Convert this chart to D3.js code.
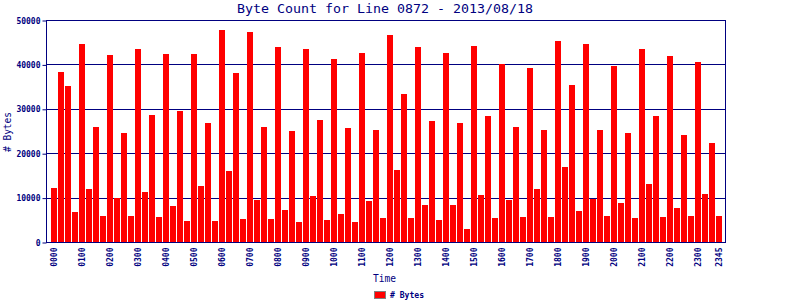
<!DOCTYPE html>
<html>
<head>
<meta charset="utf-8">
<script src="https://cdn.jsdelivr.net/npm/d3@7"></script>
<style>
  html, body { margin: 0; padding: 0; background: #fff; }
  svg { display: block; }
  text { font-family: "DejaVu Sans Mono", monospace; fill: #000080; }
</style>
</head>
<body>
<svg id="chart" width="800" height="300"></svg>
<script>
const title = "Byte Count for Line 0872 - 2013/08/18";
const yTitle = "# Bytes";
const xTitle = "Time";
const seriesName = "# Bytes";

const times = [
  "0000","0015","0030","0045","0100","0115","0130","0145","0200","0215","0230","0245",
  "0300","0315","0330","0345","0400","0415","0430","0445","0500","0515","0530","0545",
  "0600","0615","0630","0645","0700","0715","0730","0745","0800","0815","0830","0845",
  "0900","0915","0930","0945","1000","1015","1030","1045","1100","1115","1130","1145",
  "1200","1215","1230","1245","1300","1315","1330","1345","1400","1415","1430","1445",
  "1500","1515","1530","1545","1600","1615","1630","1645","1700","1715","1730","1745",
  "1800","1815","1830","1845","1900","1915","1930","1945","2000","2015","2030","2045",
  "2100","2115","2130","2145","2200","2215","2230","2245","2300","2315","2330","2345"
];

const bytes = [
  12200,38400,35200,6800,44700,12000,26000,5900,
  42200,10000,24600,5900,43500,11300,28700,5700,
  42400,8200,29600,4800,42400,12700,26900,4800,
  47800,16100,38100,5300,47400,9500,26000,5300,
  44000,7300,25100,4600,43500,10400,27600,5000,
  41300,6400,25800,4600,42600,9300,25300,5500,
  46700,16300,33400,5500,44000,8400,27300,5000,
  42600,8400,26900,3000,44200,10700,28500,5500,
  40200,9500,26000,5700,39300,12000,25300,5700,
  45300,17000,35400,7100,44700,9800,25300,5900,
  39700,8900,24600,5500,43500,13100,28500,5700,
  42000,7700,24200,5900,40600,10900,22400,5900
];

const xTickLabels = ["0000","0100","0200","0300","0400","0500","0600","0700","0800","0900",
  "1000","1100","1200","1300","1400","1500","1600","1700","1800","1900","2000","2100",
  "2200","2300","2345"];
const yTicks = [0,10000,20000,30000,40000,50000];

const navy = "#000080";
const L = 46.5, R = 725.5, T = 20.5, B = 242.5;

const svg = d3.select("#chart");

const x = d3.scaleBand().domain(times).range([50.5, 722.5])
  .paddingInner(1/7).paddingOuter(1/14);
const y = d3.scaleLinear().domain([0, 50000]).range([B, T]);

// gridlines
svg.append("g").selectAll("line").data(yTicks).join("line")
  .attr("x1", L).attr("x2", R)
  .attr("y1", d => Math.round(y(d) - 0.5) + 0.5)
  .attr("y2", d => Math.round(y(d) - 0.5) + 0.5)
  .attr("stroke", navy).attr("stroke-width", 1);

// bars
svg.append("g").selectAll("rect").data(bytes).join("rect")
  .attr("x", (d, i) => Math.round(x(times[i])))
  .attr("width", Math.round(x.bandwidth()))
  .attr("y", d => Math.round(y(d)))
  .attr("height", d => B - 0.5 - Math.round(y(d)))
  .attr("fill", "#ff0000");

// frame
svg.append("rect").attr("x", L).attr("y", T).attr("width", R - L).attr("height", B - T)
  .attr("fill", "none").attr("stroke", navy).attr("stroke-width", 1);

// y axis
const yAxis = d3.axisLeft(y).tickValues(yTicks).tickSize(4).tickPadding(2).tickFormat(d => String(d));
const gy = svg.append("g").attr("transform", `translate(${L},0)`).call(yAxis);
gy.select(".domain").remove();
gy.selectAll(".tick line").attr("stroke", navy);
gy.selectAll(".tick text").attr("font-family", "DejaVu Sans Mono").attr("font-size", 8)
  .attr("font-weight", "bold").attr("fill", navy);

// x axis
const xAxis = d3.axisBottom(x).tickValues(xTickLabels).tickSize(0).tickPadding(0);
const gx = svg.append("g").attr("transform", `translate(0,${B})`).call(xAxis);
gx.select(".domain").remove();
gx.selectAll(".tick text")
  .attr("font-family", "DejaVu Sans Mono").attr("font-size", 8).attr("font-weight", "bold")
  .attr("fill", navy)
  .attr("text-anchor", "end")
  .attr("dy", "0.35em")
  .attr("transform", "translate(0,5) rotate(-90)")
  .attr("x", 0).attr("y", 0);

// title
svg.append("text").attr("x", 385).attr("y", 13).attr("text-anchor", "middle")
  .attr("font-size", 13).attr("textLength", 296).attr("lengthAdjust", "spacingAndGlyphs")
  .text(title);

// y title
svg.append("text").attr("transform", "translate(11,132) rotate(-90)")
  .attr("text-anchor", "middle").attr("font-size", 10).attr("textLength", 40)
  .attr("lengthAdjust", "spacingAndGlyphs").text(yTitle);

// x title
svg.append("text").attr("x", 384.5).attr("y", 281.5).attr("text-anchor", "middle")
  .attr("font-size", 10).attr("textLength", 23).attr("lengthAdjust", "spacingAndGlyphs")
  .text(xTitle);

// legend
svg.append("rect").attr("x", 374.5).attr("y", 291.5).attr("width", 11).attr("height", 7)
  .attr("fill", "#ff0000").attr("stroke", "#808080").attr("stroke-width", 1);
svg.append("text").attr("x", 390).attr("y", 298).attr("font-size", 8).attr("font-weight", "bold")
  .attr("textLength", 34).attr("lengthAdjust", "spacingAndGlyphs").text(seriesName);
</script>
</body>
</html>
